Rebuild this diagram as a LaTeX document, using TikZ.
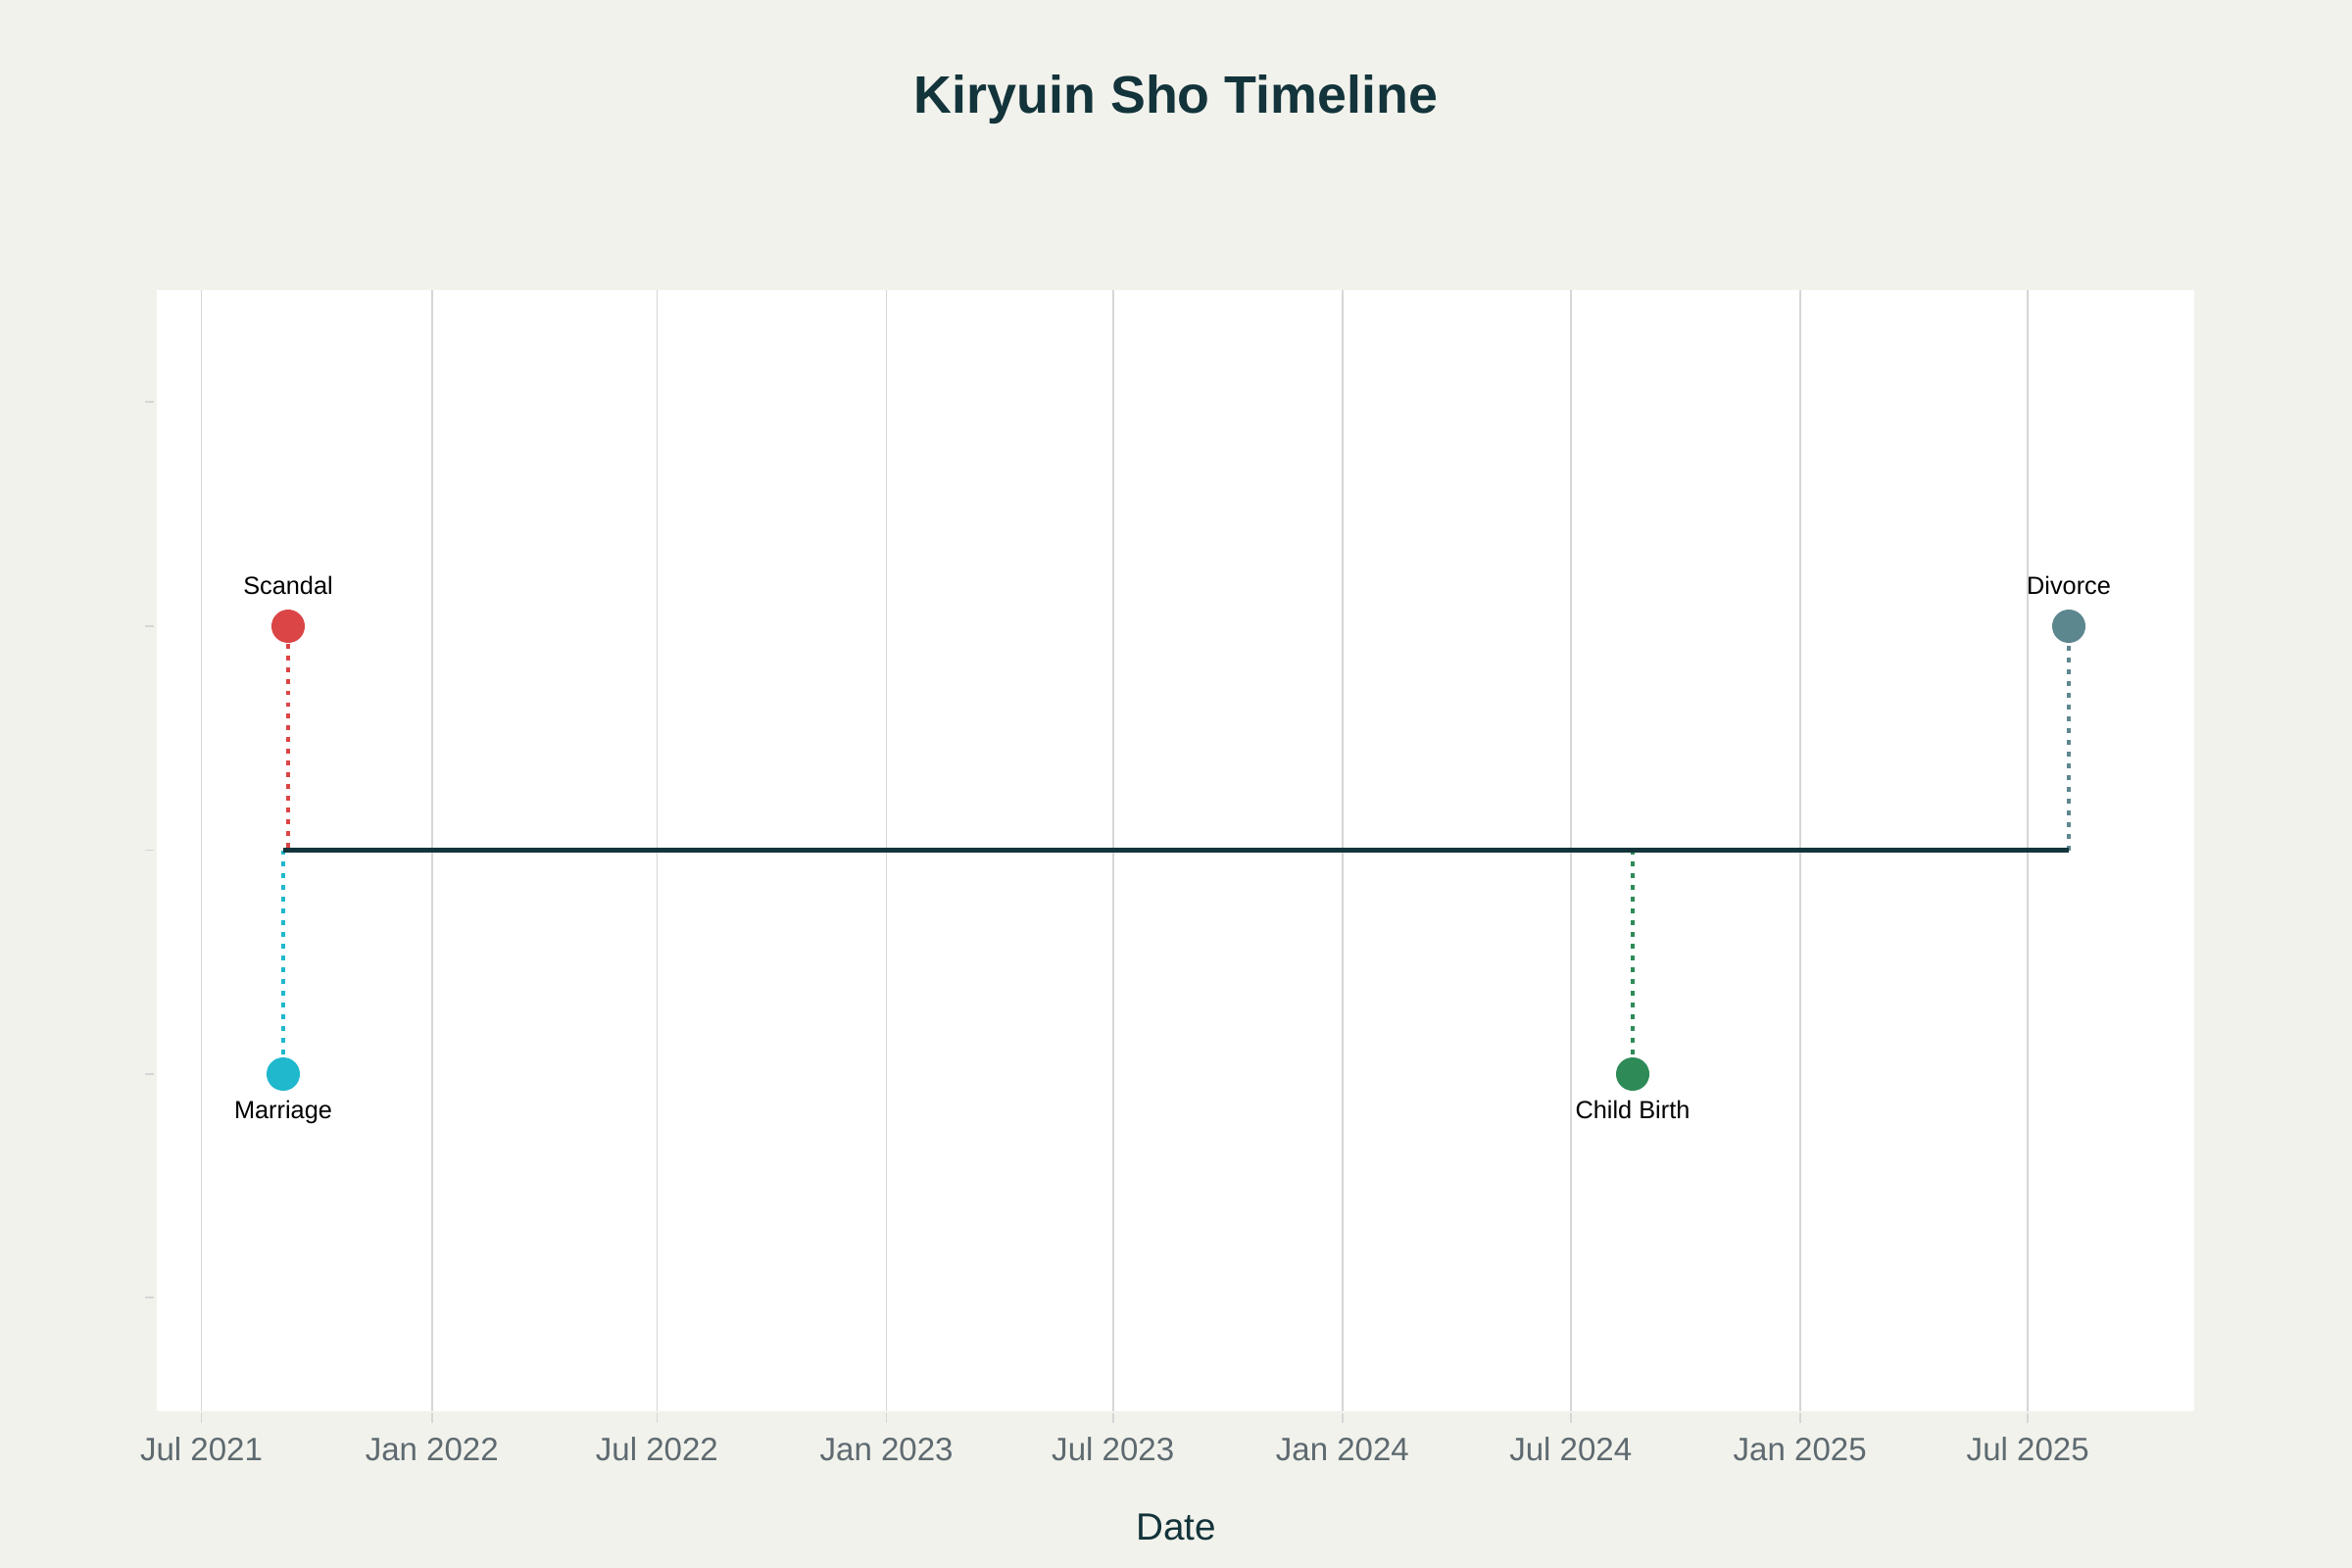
\documentclass[tikz,border=0pt]{standalone}
\usepackage{fontspec}
\setmainfont{Liberation Sans}
\definecolor{bgc}{HTML}{F2F2EC}
\definecolor{gridc}{HTML}{D6D6D6}
\definecolor{titlec}{HTML}{13343B}
\definecolor{tickc}{HTML}{5E6A70}
\definecolor{scandalc}{HTML}{DB4545}
\definecolor{marriagec}{HTML}{1FB8CD}
\definecolor{childc}{HTML}{2E8B57}
\definecolor{divorcec}{HTML}{5D878F}
\tikzset{
  gridline/.style={draw=gridc, line width=0.5pt},
  ytick/.style={draw=gridc, line width=0.5pt},
  evdot/.style={circle, inner sep=0pt, minimum size=3.4mm},
  evlabel/.style={font=\fontsize{7.2}{8}\selectfont, text=black, inner sep=0pt, anchor=base},
  xlab/.style={font=\fontsize{9.4}{11}\selectfont, text=tickc, inner sep=0pt, anchor=base},
  stem/.style={line width=1.15pt, dash pattern=on 1.4pt off 2pt},
  mainline/.style={draw=titlec, line width=1.7pt}
}
\begin{document}
\begin{tikzpicture}[x=0.01cm,y=-0.01cm]
\useasboundingbox (0,0) rectangle (2400,1600);
\fill[bgc] (0,0) rectangle (2400,1600);
\fill[white] (160,296) rectangle (2239,1440);
% title
\node[font=\fontsize{15.3}{18}\selectfont\bfseries, text=titlec, anchor=base, inner sep=0pt] (title) at (1200,116) {Kiryuin Sho Timeline};
% gridlines and x labels
\foreach \x/\l [count=\i] in {205.5/Jul 2021,440.8/Jan 2022,670.4/Jul 2022,904.6/Jan 2023,1135.7/Jul 2023,1369.9/Jan 2024,1602.8/Jul 2024,1836.7/Jan 2025,2069.2/Jul 2025}{
  \draw[gridline] (\x,296) -- (\x,1440);
  \draw[gridline] (\x,1442) -- (\x,1452);
  \node[xlab] (xl\i) at (\x,1490) {\l};
}
% y ticks
\foreach \y in {410,639,867.5,1096,1324}{
  \draw[ytick] (148,\y) -- (157,\y);
}
% axis title
\node[font=\fontsize{11}{13}\selectfont, text=titlec, anchor=base, inner sep=0pt] (xtitle) at (1200,1571) {Date};
% events
\node[evdot, fill=scandalc] (scandal) at (294,639) {};
\node[evdot, fill=marriagec] (marriage) at (289,1096) {};
\node[evdot, fill=childc] (child) at (1666,1096) {};
\node[evdot, fill=divorcec] (divorce) at (2111,639) {};
\coordinate (cs) at (294,867.5);
\coordinate (cm) at (289,867.5);
\coordinate (cc) at (1666,867.5);
\coordinate (cd) at (2111,867.5);
\draw[stem, scandalc] (scandal.south) -- (cs);
\draw[stem, marriagec] (cm) -- (marriage.north);
\draw[stem, childc] (cc) -- (child.north);
\draw[stem, divorcec] (cd) -- (divorce.south);
\draw[mainline] (cm) -- (cd);
\node[evlabel] (lscandal) at (294,606) {Scandal};
\node[evlabel] (lmarriage) at (289,1141) {Marriage};
\node[evlabel] (lchild) at (1666,1141) {Child Birth};
\node[evlabel] (ldivorce) at (2111,606) {Divorce};
\end{tikzpicture}
\end{document}
